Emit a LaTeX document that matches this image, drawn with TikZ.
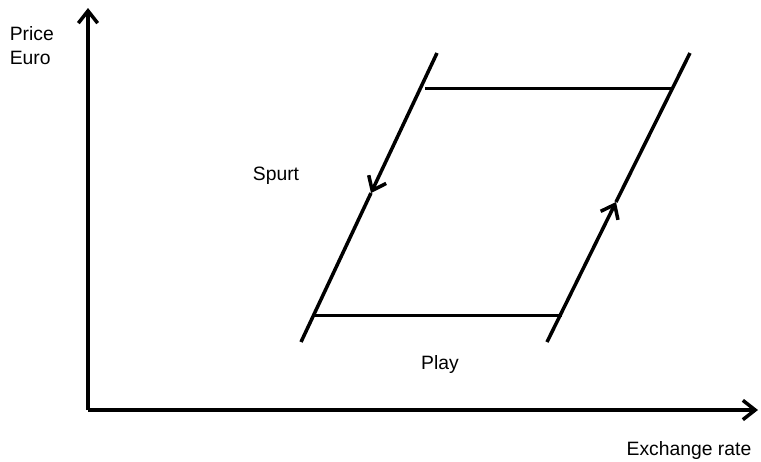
\documentclass[tikz,border=0pt]{standalone}
\usepackage{fontspec}
\setmainfont{Liberation Sans}
\usepackage{tikz}
\usetikzlibrary{arrows.meta}

\begin{document}
\begin{tikzpicture}[x=0.02cm, y=-0.02cm, line width=2pt, >={Straight Barb[length=7pt,width=11pt]},
    lbl/.style={font=\fontsize{11}{13.5}\selectfont, inner sep=0pt}]
                \useasboundingbox (0,0) rectangle (761,461);
                % axes
                \coordinate (O) at (88,410);
                \coordinate (Ytop) at (88,8);
                \coordinate (Xend) at (758,410);
                \draw[->] (O) -- (Ytop);
                \draw[->] (O) -- (Xend);
                \node[lbl, align=left, anchor=north west] (price) at (8,25) {Price\\Euro};
                \node[lbl] (xrate) at (689,450) {Exchange rate};
                % loop
                \coordinate (Lbot) at (301,342);
                \coordinate (Ltop) at (437,53);
                \coordinate (Lmid) at (371,193);
                \coordinate (Rbot) at (547,342);
                \coordinate (Rtop) at (690,53);
                \coordinate (Rmid) at (616,202);
                \draw[->] (Ltop) -- (Lmid);
                \draw (Lmid) -- (Lbot);
                \draw[->] (Rbot) -- (Rmid);
                \draw (Rmid) -- (Rtop);
                \coordinate (Tl) at (425,88);
                \coordinate (Tr) at (672,88);
                \coordinate (Bl) at (315,315);
                \coordinate (Br) at (562,315);
                \draw[line width=1.7pt] (Tl) -- (Tr);
                \draw[line width=1.7pt] (Bl) -- (Br);
                \node[lbl] (spurt) at (276,176) {Spurt};
                \node[lbl] (play) at (440,364) {Play};
            \end{tikzpicture}
\end{document}
